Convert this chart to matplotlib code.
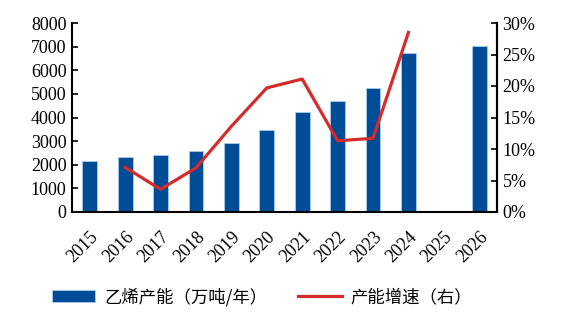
import matplotlib
matplotlib.use("Agg")
import matplotlib.pyplot as plt
import numpy as np

years = ["2015", "2016", "2017", "2018", "2019", "2020", "2021", "2022", "2023", "2024", "2025", "2026"]
capacity = [2160, 2316, 2400, 2570, 2910, 3470, 4220, 4700, 5240, 6740, np.nan, 7030]
growth = [np.nan, 7.1, 3.6, 7.0, 13.6, 19.7, 21.1, 11.3, 11.7, 28.5, np.nan, np.nan]
bar_label = "乙烯产能（万吨/年）"
line_label = "产能增速（右）"

plt.rcParams['font.family'] = ['Liberation Serif', 'Noto Sans CJK SC']

fig = plt.figure(figsize=(5.67, 3.22), dpi=100)
ax = fig.add_axes([72/567, 1-212/322, (497-72)/567, 189/322])
x = np.arange(len(years))
bars = ax.bar(x, capacity, width=0.42, color='#004C97', edgecolor='#A9CCEB', linewidth=0.6, label=bar_label)
ax.set_xlim(-0.5, len(years) - 0.5)
ax.set_ylim(0, 8000)
ax.set_yticks(range(0, 8001, 1000))
ax.set_xticks(x)
ax.set_xticklabels(years, rotation=45, ha='right', va='top', rotation_mode='anchor')
ax.tick_params(axis='x', length=0, pad=12, labelsize=13)
ax.tick_params(axis='y', direction='in', length=4, width=1.2, labelsize=13, pad=4)
ax.spines['top'].set_visible(False)
for s in ['left', 'bottom', 'right']:
    ax.spines[s].set_linewidth(1.5)

ax2 = ax.twinx()
ln, = ax2.plot(x, growth, color='#D42B2B', linewidth=2.3, label=line_label)
ax2.set_ylim(0, 30)
ax2.set_yticks(range(0, 31, 5))
ax2.set_yticklabels([f"{v}%" for v in range(0, 31, 5)])
ax2.tick_params(axis='y', direction='in', length=4, width=1.2, labelsize=13, pad=4)
ax2.spines['top'].set_visible(False)
ax2.spines['right'].set_linewidth(1.5)
ax2.spines['left'].set_visible(False)
ax2.spines['bottom'].set_visible(False)

leg = fig.legend([bars, ln], [bar_label, line_label], loc='center', bbox_to_anchor=(262/567, 1-297/322),
                 ncol=2, frameon=False, prop={'family': 'Noto Sans CJK SC', 'size': 12.5},
                 handlelength=2.5, handleheight=0.7, columnspacing=1.8, handletextpad=0.5)

fig.savefig("out.png", dpi=100)
